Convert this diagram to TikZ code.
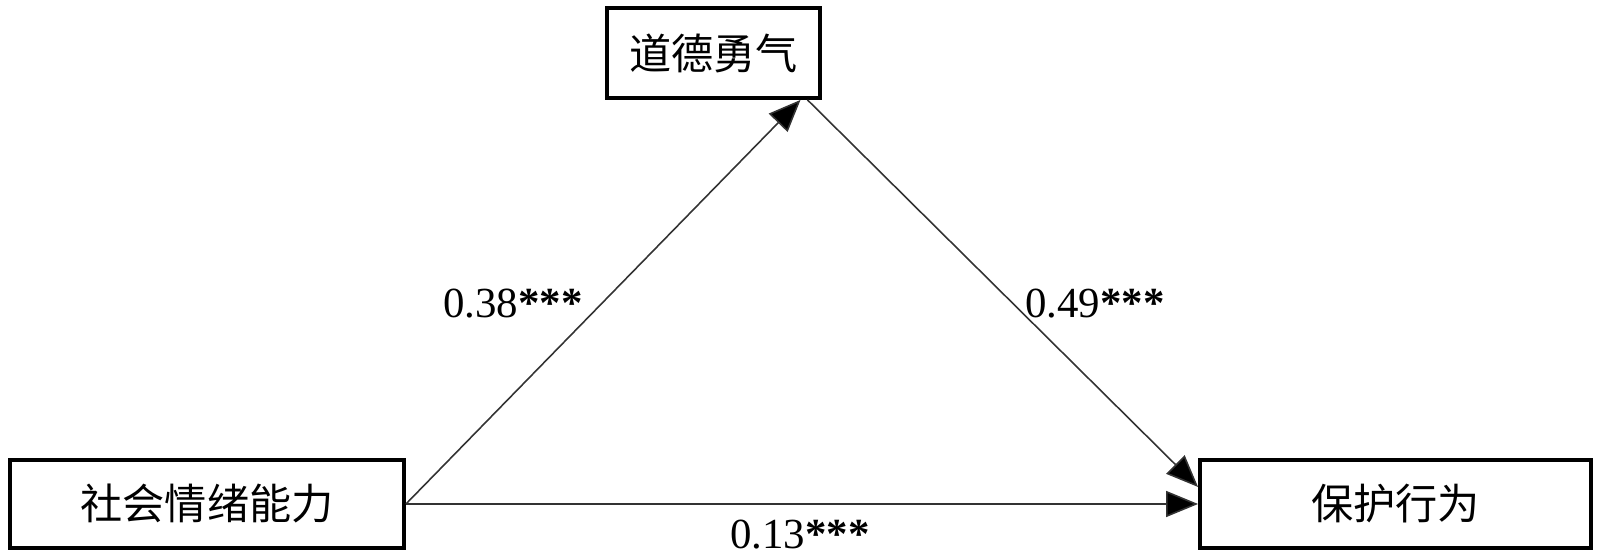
\documentclass[tikz,border=0pt]{standalone}
\usepackage{fontspec}
\setmainfont{Liberation Serif}
\newfontfamily\cjk{Noto Sans CJK SC}
\usepackage{tikz}
\usetikzlibrary{arrows.meta,positioning}

\begin{document}
\begin{tikzpicture}[
    box/.style={rectangle, draw, line width=1.1pt, fill=white, minimum height=0.88cm, font=\cjk\fontsize{12}{14}\selectfont},
    arrow/.style={-{Triangle[length=0.32cm,width=0.26cm,fill=black]}, line width=0.45pt, draw=black!80},
    coef/.style={font=\fontsize{12.2}{14}\selectfont, inner sep=0pt}
]
    \useasboundingbox (0,0) rectangle (16,5.58);
    \node[box, minimum width=2.13cm, minimum height=0.9cm] (courage) at (7.135,5.05) {道德勇气};
    \node[box, minimum width=3.94cm] (social) at (2.07,0.54) {社会情绪能力};
    \node[box, minimum width=3.91cm] (protect) at (13.955,0.54) {保护行为};

    \draw[arrow] (social.east) -- ([xshift=0.87cm]courage.south);
    \draw[arrow] ([xshift=0.94cm]courage.south) -- ([yshift=0.17cm]protect.west);
    \draw[arrow] (social.east) -- (protect.west);

    \node[coef] (a) at (5.13,2.54) {0.38\textbf{***}};
    \node[coef] (b) at (10.95,2.54) {0.49\textbf{***}};
    \node[coef] (c) at (8.0,0.23) {0.13\textbf{***}};
\end{tikzpicture}
\end{document}
